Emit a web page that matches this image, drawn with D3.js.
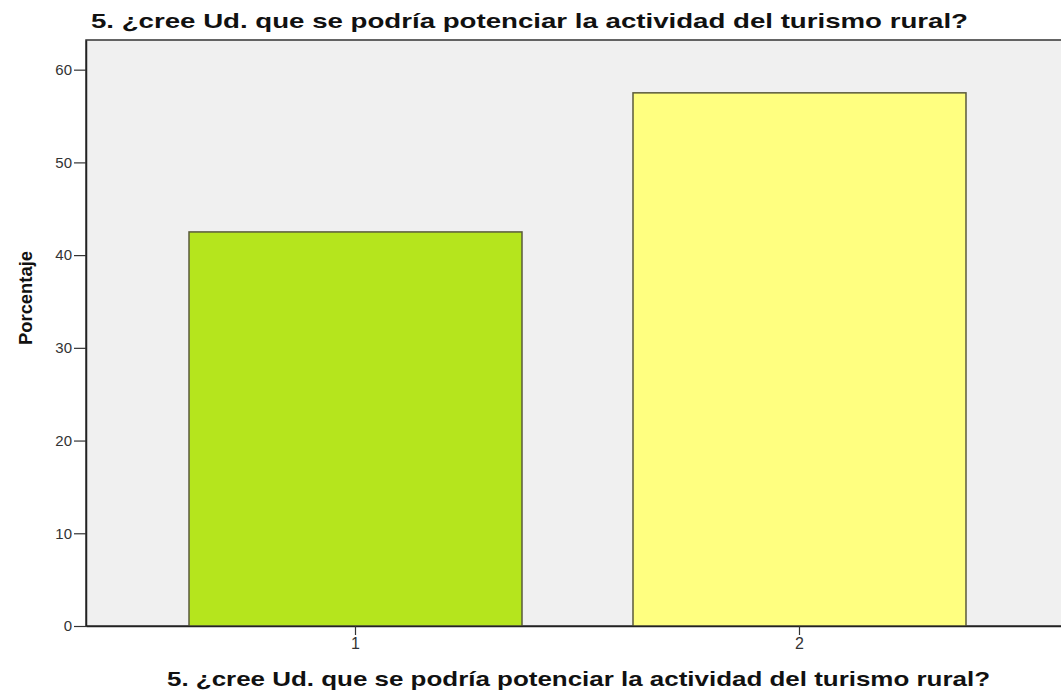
<!DOCTYPE html>
<html>
<head>
<meta charset="utf-8">
<script src="https://cdn.jsdelivr.net/npm/d3@7"></script>
<style>
  body { margin: 0; background: #fff; }
  svg text { font-family: "Liberation Sans", Arial, sans-serif; }
</style>
</head>
<body>
<div id="chart"></div>
<script>
// datos del grafico
var categorias = ["1", "2"];
var porcentajes = [42.5, 57.5];
var colores = ["#b5e51d", "#ffff80"];
var ticksY = [0, 10, 20, 30, 40, 50, 60];
var titulo = "5. ¿cree Ud. que se podría potenciar la actividad del turismo rural?";
var tituloY = "Porcentaje";

var svgWidth = 1061;
var svgHeight = 693;

var margin = { top: 40, right: -8, bottom: 67, left: 86 };
var chartWidth = svgWidth - margin.left - margin.right;
var chartHeight = svgHeight - margin.top - margin.bottom;

var svg = d3.select("#chart")
  .append("svg")
  .attr("width", svgWidth)
  .attr("height", svgHeight);

var chartGroup = svg.append("g")
  .attr("transform", `translate(${margin.left}, ${margin.top})`);

// escalas
var xScale = d3.scaleBand()
  .domain(categorias)
  .range([0, chartWidth])
  .paddingInner(0.25)
  .paddingOuter(0.232);

var yScale = d3.scaleLinear()
  .domain([0, 63.2])
  .range([chartHeight, 0]);

// fondo del area
chartGroup.append("rect")
  .attr("x", 0)
  .attr("y", 0)
  .attr("width", chartWidth)
  .attr("height", chartHeight)
  .attr("fill", "#f0f0f0")
  .attr("stroke", "#333")
  .attr("stroke-width", 1.5);

// barras
chartGroup.selectAll(".barra")
  .data(porcentajes)
  .enter()
  .append("rect")
  .attr("class", "barra")
  .attr("x", (d, i) => xScale(categorias[i]))
  .attr("y", d => yScale(d))
  .attr("width", xScale.bandwidth())
  .attr("height", d => chartHeight - yScale(d))
  .attr("fill", (d, i) => colores[i])
  .attr("stroke", "#5a5a3c")
  .attr("stroke-width", 1.5);

// ejes
var leftAxis = d3.axisLeft(yScale).tickValues(ticksY).tickSize(12).tickSizeOuter(0).tickPadding(2);
var bottomAxis = d3.axisBottom(xScale).tickSize(9).tickSizeOuter(0).tickPadding(3);

var gy = chartGroup.append("g").call(leftAxis);
gy.select(".domain").attr("stroke", "#222").attr("stroke-width", 1.5);
gy.selectAll(".tick line").attr("stroke", "#333").attr("stroke-width", 1.2);
gy.selectAll(".tick text").attr("font-size", 15).attr("fill", "#333")
  .attr("font-family", "Liberation Sans, Arial, sans-serif");

var gx = chartGroup.append("g")
  .attr("transform", `translate(0, ${chartHeight})`)
  .call(bottomAxis);
gx.select(".domain").attr("stroke", "#222").attr("stroke-width", 1.5);
gx.selectAll(".tick line").attr("stroke", "#333").attr("stroke-width", 1.2);
gx.selectAll(".tick text").attr("font-size", 16).attr("fill", "#333")
  .attr("font-family", "Liberation Sans, Arial, sans-serif");

// titulos
svg.append("text")
  .attr("x", 91)
  .attr("y", 28)
  .attr("font-size", 21)
  .attr("font-weight", "bold")
  .attr("fill", "#111")
  .attr("textLength", 877)
  .attr("lengthAdjust", "spacingAndGlyphs")
  .text(titulo);

svg.append("text")
  .attr("x", 167)
  .attr("y", 686)
  .attr("font-size", 21)
  .attr("font-weight", "bold")
  .attr("fill", "#111")
  .attr("textLength", 823)
  .attr("lengthAdjust", "spacingAndGlyphs")
  .text(titulo);

svg.append("text")
  .attr("transform", "translate(32, 298) rotate(-90)")
  .attr("text-anchor", "middle")
  .attr("font-size", 18)
  .attr("font-weight", "bold")
  .attr("fill", "#111")
  .attr("textLength", 94)
  .attr("lengthAdjust", "spacingAndGlyphs")
  .text(tituloY);
</script>
</body>
</html>
